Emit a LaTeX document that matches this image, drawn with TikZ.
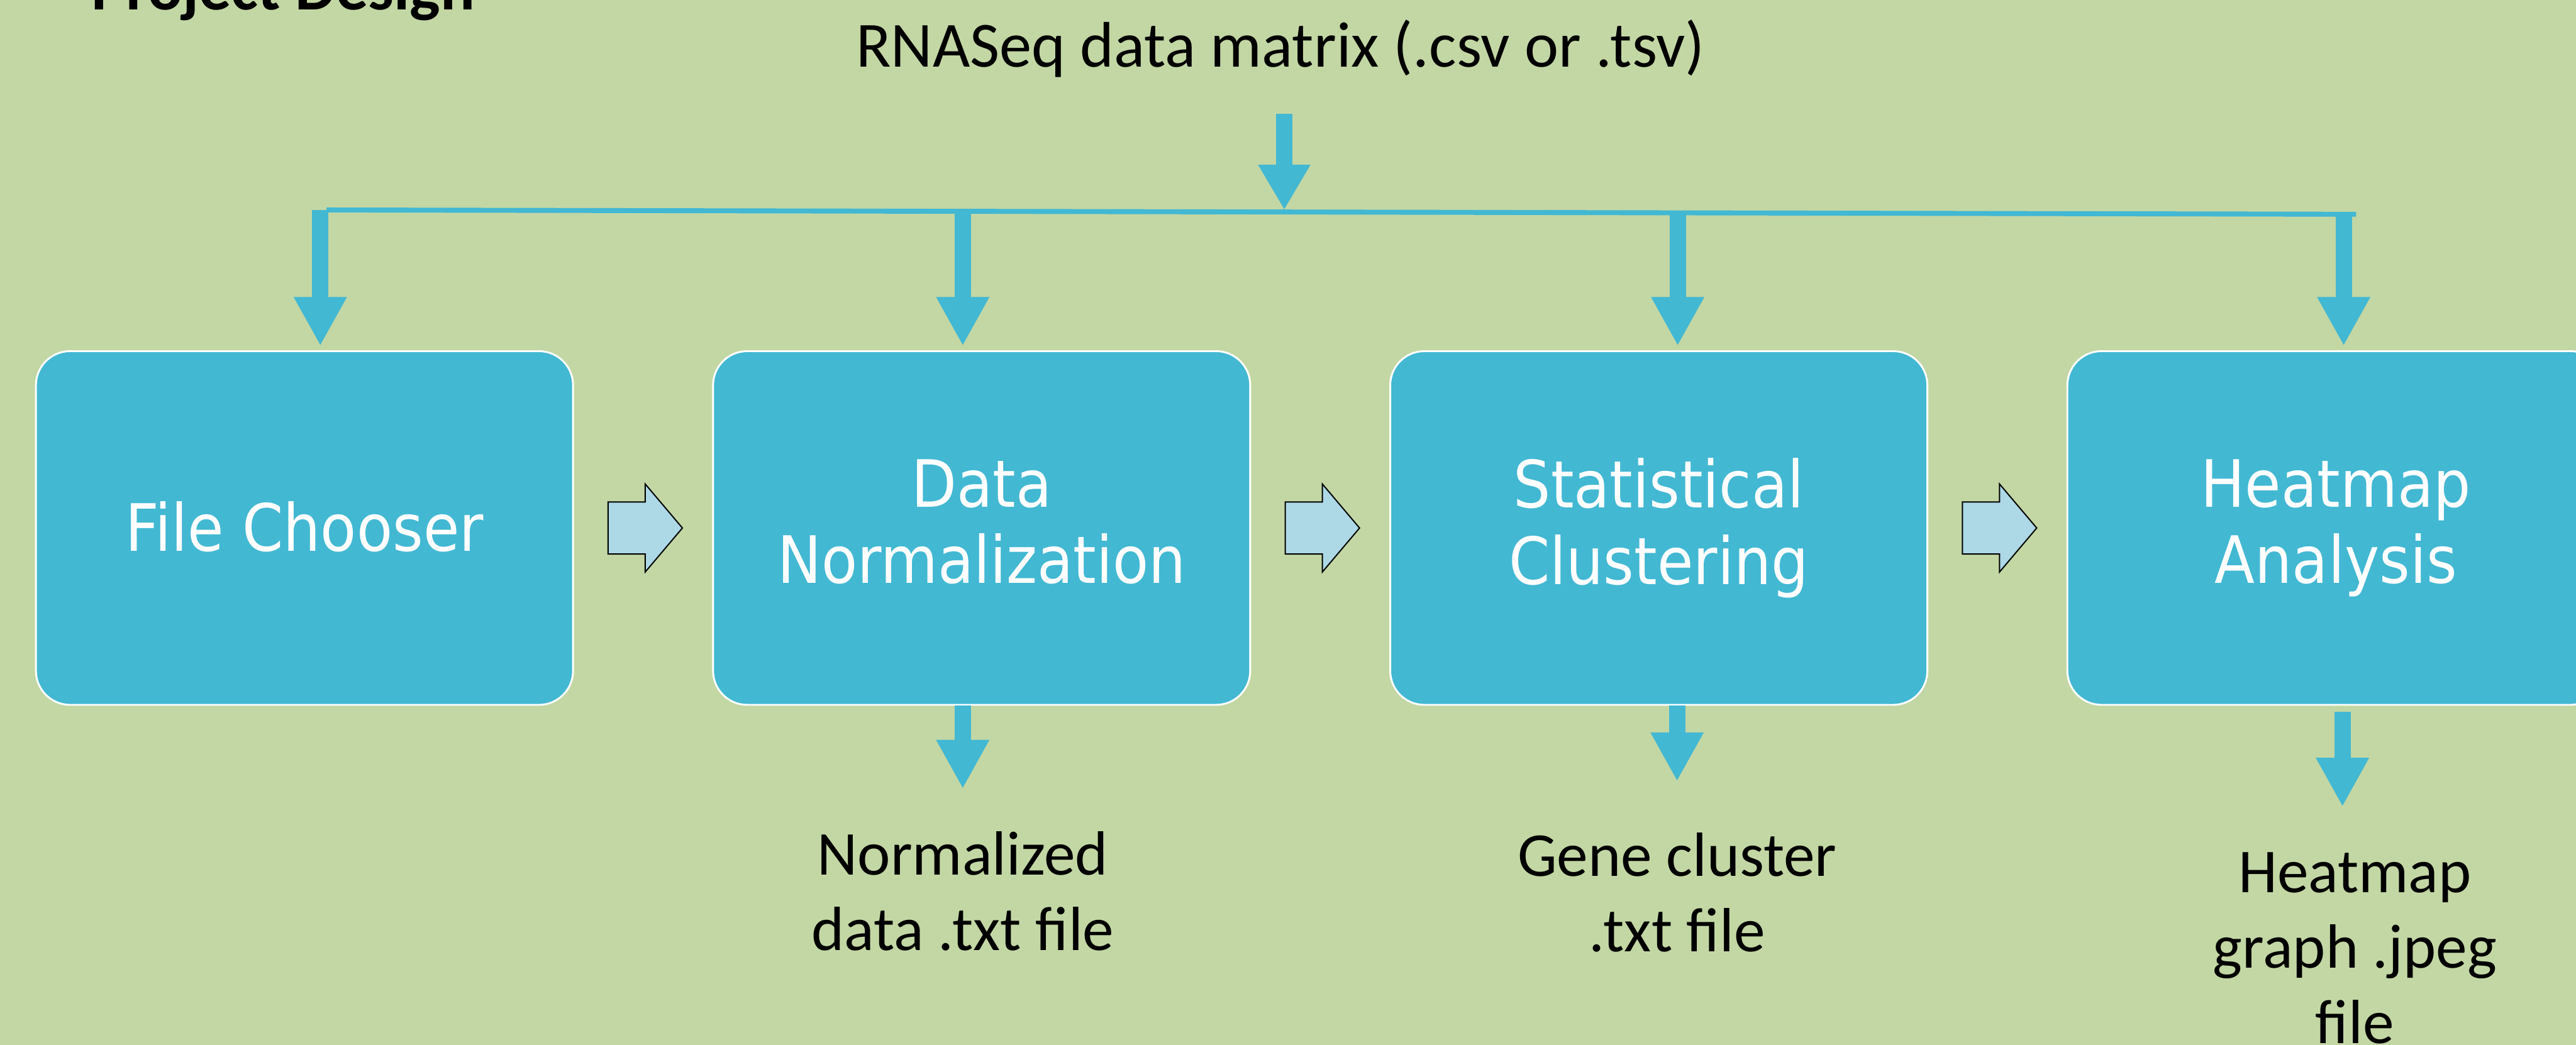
\documentclass[tikz,border=0pt]{standalone}
\usepackage{fontspec}
\setmainfont{Carlito}
\newfontfamily\boxfont[FakeStretch=0.9]{DejaVu Sans}
\usetikzlibrary{calc,positioning,arrows.meta}
\definecolor{slidebg}{RGB}{195,215,164}
\definecolor{boxblue}{RGB}{66,184,211}
\definecolor{stepblue}{RGB}{173,216,230}
\tikzset{
  box/.style={rectangle, rounded corners=0.55cm, fill=boxblue, draw=white, line width=0.03cm,
    minimum width=8.67cm, minimum height=5.71cm, text=white, align=center,
    font=\boxfont\fontsize{30}{35}\selectfont,
    execute at begin node={\rule{0pt}{0.97cm}}, execute at end node={\vphantom{g}}},
  dnarrow/.style={draw=boxblue, line width=0.265cm, -{Triangle[width=0.8cm,length=0.79cm]}},
  busline/.style={draw=boxblue, line width=0.08cm},
  steparrow/.style={fill=stepblue, draw=black, line width=0.02cm, line join=miter},
  outtext/.style={align=center, inner sep=0pt, font=\fontsize{28.7}{34.7}\selectfont}
}

\begin{document}
\begin{tikzpicture}
\useasboundingbox (0,0) rectangle (41.58,16.87);
\clip (0,0) rectangle (41.58,16.87);
\fill[slidebg] (0,0) rectangle (41.58,16.87);
\node[anchor=base west, inner sep=0pt, font=\bfseries\fontsize{29.6}{35}\selectfont] (title) at (1.47,16.71) {Project Design};
\node[anchor=base, inner sep=0pt, font=\fontsize{29.6}{35}\selectfont] (rna) at (20.67,15.79) {RNASeq data matrix (.csv or .tsv)};
% the four steps
\node[box] (fc) at (4.915,8.345) {File Chooser};
\node[box, right=2.23cm of fc] (dn) {Data\\Normalization};
\node[box, right=2.23cm of dn] (sc) {Statistical\\Clustering};
\node[box, right=2.23cm of sc] (ha) {Heatmap\\Analysis};
\foreach \a/\b in {fc/dn,dn/sc,sc/ha}
  \draw[steparrow] ($(\a.east)!0.5!(\b.west)+(-0.565,0.42)$) -- ++(0.6,0) -- ++(0,0.29)
    -- ++(0.6,-0.71) -- ++(-0.6,-0.71) -- ++(0,0.29) -- ++(-0.6,0) -- cycle;
% input bus
\coordinate (busL) at (5.27,13.48);
\coordinate (busR) at (38.03,13.41);
\draw[busline] (busL) -- (busR);
\coordinate (feed) at (20.73,15.03);
\draw[dnarrow, -{Triangle[width=0.79cm,length=0.73cm]}] (feed) -- (feed |- busL);
\foreach \n/\x/\y in {fc/5.17/13.48, dn/15.54/13.46, sc/27.08/13.43, ha/37.83/13.41} {
  \coordinate (bus-\n) at (\x,\y);
  \draw[dnarrow, shorten >=0.07cm] (bus-\n) -- (bus-\n |- \n.north);
}
% outputs
\foreach \n/\dx/\dy/\len in {dn/-0.305/0/1.34, sc/0.295/0/1.22, ha/0.105/-0.1/1.53}
  \draw[dnarrow] ([xshift=\dx cm, yshift=\dy cm]\n.south) -- ++(0,-\len) coordinate (tip-\n);
\node[outtext, below=0.68cm of tip-dn] (dnout) {Normalized\\data .txt file};
\node[outtext, below=0.82cm of tip-sc] (scout) {Gene cluster\\.txt file};
\node[outtext, below=0.73cm of tip-ha, xshift=0.2cm] (haout) {Heatmap\\graph .jpeg\\file};
\end{tikzpicture}
\end{document}
